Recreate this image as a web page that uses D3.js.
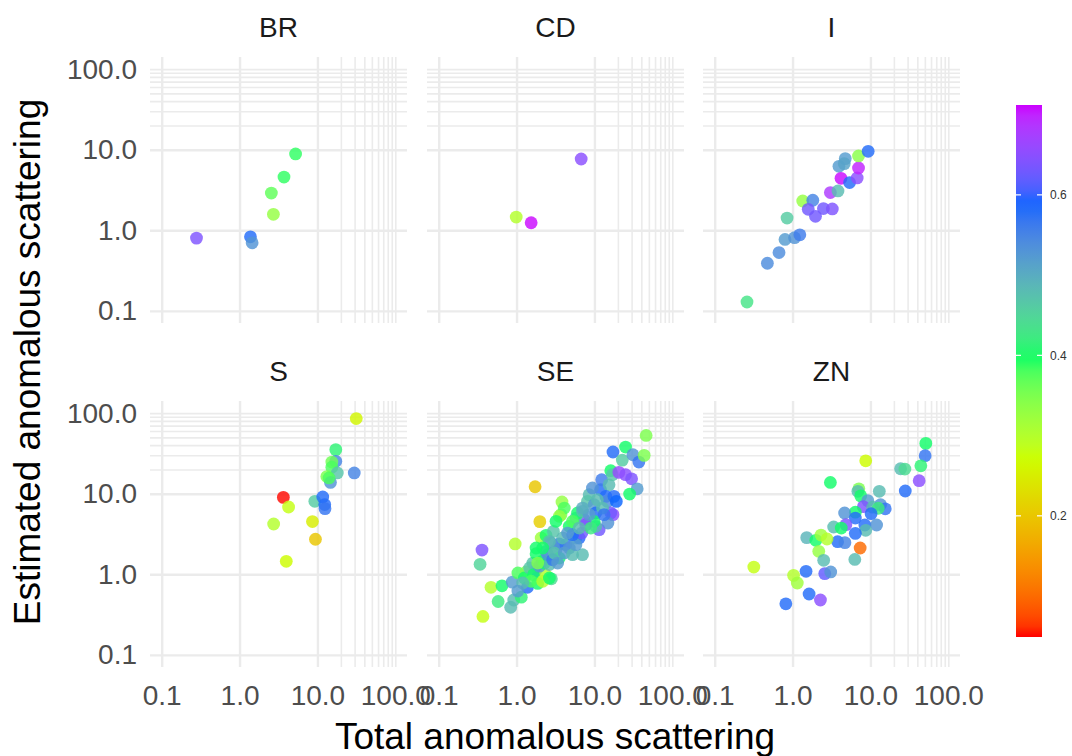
<!DOCTYPE html>
<html>
<head>
<meta charset="utf-8">
<script src="https://cdn.jsdelivr.net/npm/d3@7"></script>
<style>
	body { margin: 0; background: #fff; }
	svg { display: block; font-family: "Liberation Sans", Arial, sans-serif; }
	.grid line { stroke: #ebebeb; }
	.grid path { display: none; }
	.tick-labels path, .tick-labels line { display: none; }
	.tick-labels text { fill: #4d4d4d; font-size: 28px; }
</style>
</head>
<body>
<div id="chart"></div>
<script>
// facets, ticks and colour stops
var facets = ["BR", "CD", "I", "S", "SE", "ZN"];
var axisTicks = [0.1, 1, 10, 100];
var gridBreaks = [0.1, 1, 10, 20, 30, 40, 50, 60, 70, 80, 90, 100];
var colourTicks = [0.2, 0.4, 0.6];
var colourStops = [0.049, 0.272, 0.397, 0.589, 0.712];
var colourRange = ["#FF0000", "#CCFF00", "#00FF66", "#0066FF", "#CC00FF"];

// [total anomalous, estimated anomalous, colour value]
var dataBR = [
	[0.28, 0.80, 0.64], [1.38, 0.83, 0.58], [1.45, 0.70, 0.53], [2.72, 1.58, 0.33],
	[2.56, 2.90, 0.37], [3.72, 4.58, 0.39], [5.24, 8.85, 0.39]
];
var dataCD = [
	[6.76, 7.67, 0.65], [0.99, 1.46, 0.30], [1.54, 1.24, 0.71]
];
var dataI = [
	[0.26, 0.129, 0.43], [0.475, 0.39, 0.54], [0.67, 0.53, 0.54], [0.80, 0.77, 0.52],
	[1.06, 0.81, 0.53], [1.24, 0.88, 0.56], [0.85, 1.42, 0.46], [1.35, 2.31, 0.33],
	[1.82, 2.36, 0.55], [1.59, 1.82, 0.63], [1.97, 1.49, 0.63], [2.49, 1.86, 0.63],
	[3.24, 1.84, 0.64], [3.06, 2.94, 0.68], [3.83, 3.08, 0.48], [3.94, 6.22, 0.52],
	[4.75, 7.75, 0.52], [4.61, 6.72, 0.51], [4.19, 4.42, 0.71], [5.40, 3.91, 0.58],
	[6.76, 4.46, 0.65], [7.03, 5.93, 0.70], [7.03, 8.36, 0.34], [9.35, 9.55, 0.58]
];
var dataS = [
	[31.5, 85.5, 0.26], [17.2, 35.2, 0.41], [17.2, 25.2, 0.55], [15.3, 24.7, 0.36],
	[15.3, 21.3, 0.38], [18.0, 18.1, 0.47], [29.7, 18.1, 0.55], [13.2, 16.3, 0.35],
	[14.7, 13.8, 0.53], [14.1, 15.7, 0.38], [3.65, 9.0, 0.05], [4.26, 6.84, 0.28],
	[9.26, 8.05, 0.46], [11.7, 9.1, 0.58], [12.4, 7.33, 0.58], [12.5, 6.53, 0.57],
	[2.74, 4.21, 0.30], [8.63, 4.51, 0.25], [9.43, 2.72, 0.20], [3.98, 1.45, 0.27]
];
var dataSE = [
	[0.36, 2.0, 0.64], [0.34, 1.33, 0.45], [0.37, 0.30, 0.28], [0.47, 0.69, 0.30],
	[0.65, 0.72, 0.40], [0.58, 0.46, 0.42], [0.84, 0.39, 0.48], [0.92, 0.48, 0.48],
	[1.15, 0.52, 0.41], [0.88, 0.80, 0.52], [0.96, 2.38, 0.30], [1.73, 12.2, 0.20],
	[1.99, 4.5, 0.21], [1.38, 0.69, 0.58], [1.75, 1.10, 0.58], [2.34, 1.0, 0.30],
	[1.87, 0.77, 0.40], [2.8, 0.88, 0.44], [1.04, 1.04, 0.38], [1.33, 1.07, 0.35],
	[1.62, 1.38, 0.47], [1.78, 1.80, 0.40], [2.13, 1.45, 0.40], [2.39, 1.93, 0.52],
	[2.07, 2.82, 0.32], [2.39, 3.04, 0.40], [2.97, 3.41, 0.47], [3.54, 2.38, 0.58],
	[2.77, 2.45, 0.52], [3.21, 2.02, 0.53], [4.3, 2.33, 0.57], [3.9, 2.82, 0.48],
	[3.54, 1.59, 0.40], [4.75, 2.12, 0.53], [5.78, 2.82, 0.49], [7.03, 1.75, 0.48],
	[6.37, 2.82, 0.58], [7.38, 4.76, 0.64], [6.89, 3.25, 0.63], [4.75, 3.94, 0.40],
	[3.72, 5.5, 0.35], [3.83, 7.9, 0.33], [4.1, 6.64, 0.38], [3.54, 5.24, 0.33],
	[5.78, 4.99, 0.48], [6.07, 5.76, 0.40], [7.03, 6.04, 0.48], [8.55, 9.72, 0.48],
	[8.14, 8.03, 0.47], [9.9, 7.31, 0.52], [10.4, 5.76, 0.58], [11.5, 3.58, 0.63],
	[10.4, 3.94, 0.48], [9.9, 4.54, 0.40], [12.0, 11.2, 0.58], [12.4, 14.9, 0.56],
	[15.4, 12.9, 0.48], [14.0, 9.27, 0.58], [14.7, 8.03, 0.54], [17.8, 9.27, 0.58],
	[19.1, 8.03, 0.59], [17.3, 5.5, 0.65], [16.2, 5.76, 0.63], [14.9, 4.33, 0.53],
	[12.7, 6.64, 0.48], [16.2, 19.3, 0.40], [17.0, 17.2, 0.47], [20.6, 18.4, 0.66],
	[25.1, 17.2, 0.65], [30.0, 15.3, 0.64], [35.4, 11.5, 0.52], [28.3, 9.9, 0.40],
	[17.3, 32.9, 0.58], [25.1, 37.9, 0.40], [22.8, 26.1, 0.46], [31.2, 30.4, 0.53],
	[37.2, 24.7, 0.57], [43.5, 29.9, 0.35], [46.1, 52.8, 0.35], [1.26, 0.90, 0.40],
	[1.47, 1.2, 0.47], [1.65, 0.99, 0.40], [1.97, 1.26, 0.52], [2.28, 1.38, 0.40],
	[2.64, 1.32, 0.48], [2.51, 1.75, 0.53], [2.91, 1.52, 0.57], [3.05, 1.84, 0.47],
	[3.37, 1.38, 0.52], [4.1, 1.84, 0.52], [5.24, 1.75, 0.48], [5.78, 2.33, 0.52],
	[5.24, 3.1, 0.58], [4.52, 3.25, 0.52], [7.75, 4.13, 0.64], [8.55, 5.5, 0.52],
	[8.98, 3.75, 0.42], [13.3, 5.5, 0.57], [10.9, 8.43, 0.48], [9.42, 11.8, 0.53],
	[7.03, 6.64, 0.50], [5.24, 4.54, 0.38], [6.37, 3.75, 0.48], [3.21, 4.54, 0.40],
	[2.64, 2.56, 0.48], [2.17, 2.12, 0.40], [1.78, 2.12, 0.40], [1.87, 1.38, 0.35],
	[1.54, 0.82, 0.38], [2.17, 0.82, 0.30], [2.64, 0.90, 0.40], [1.2, 0.78, 0.48],
	[1.04, 0.62, 0.52]
];
var dataZN = [
	[51.4, 42.1, 0.40], [50.4, 29.6, 0.57], [44.4, 22.2, 0.41], [42.2, 14.5, 0.65],
	[28.0, 10.8, 0.58], [24.4, 20.4, 0.48], [27.7, 20.2, 0.44], [8.7, 25.6, 0.27],
	[3.06, 13.8, 0.40], [7.1, 11.5, 0.35], [6.9, 10.7, 0.48], [13.0, 10.7, 0.48],
	[7.5, 9.4, 0.40], [9.25, 8.2, 0.52], [8.1, 6.9, 0.64], [10.7, 6.8, 0.48],
	[13.5, 7.3, 0.53], [15.5, 6.5, 0.57], [12.6, 6.6, 0.42], [10.2, 5.65, 0.58],
	[6.4, 5.9, 0.40], [4.66, 5.76, 0.53], [6.4, 4.99, 0.58], [8.47, 4.09, 0.58],
	[12.0, 4.09, 0.53], [8.7, 3.51, 0.48], [6.4, 3.22, 0.58], [4.84, 4.13, 0.64],
	[3.37, 3.86, 0.48], [4.22, 3.75, 0.40], [3.79, 2.54, 0.58], [4.7, 2.47, 0.55],
	[7.38, 2.12, 0.10], [6.3, 1.53, 0.48], [1.52, 2.85, 0.49], [1.99, 2.64, 0.40],
	[2.32, 3.07, 0.32], [2.77, 2.74, 0.30], [2.17, 1.93, 0.33], [2.51, 1.49, 0.48],
	[1.49, 1.09, 0.58], [2.59, 1.02, 0.62], [3.09, 1.07, 0.53], [0.318, 1.23, 0.28],
	[1.03, 0.97, 0.30], [1.15, 0.78, 0.32], [0.82, 0.43, 0.58], [1.63, 0.57, 0.58],
	[2.28, 0.48, 0.65]
];
var facetData = [dataBR, dataCD, dataI, dataS, dataSE, dataZN];

/*
 * Chart Code
 */
var chartProperties = {
	width: 1072,
	height: 756,
	panelWidth: 257,
	panelHeight: 266,
	colX: [150, 427, 703],
	rowY: [57, 401]
};

var svg = d3.select("#chart")
	.append("svg")
	.attr("width", chartProperties.width)
	.attr("height", chartProperties.height);

// log scales with the usual 5% padding either side
var logDomain = [Math.pow(10, -1.15), Math.pow(10, 2.15)];
var xScale = d3.scaleLog()
	.domain(logDomain)
	.range([0, chartProperties.panelWidth]);
var yScale = d3.scaleLog()
	.domain(logDomain)
	.range([chartProperties.panelHeight, 0]);

var colourScale = d3.scaleLinear()
	.domain(colourStops)
	.range(colourRange)
	.interpolate(d3.interpolateLab);

var tickFormat = d3.format(".1f");

function isMajor(v) {
	return axisTicks.indexOf(v) >= 0 && v !== 100;
}

facets.forEach(function(name, i) {
	var col = i % 3;
	var row = Math.floor(i / 3);
	var panel = svg.append("g")
		.attr("transform", "translate(" + chartProperties.colX[col] + "," + chartProperties.rowY[row] + ")");

	// gridlines
	panel.append("g")
		.attr("class", "grid")
		.call(d3.axisBottom(xScale)
			.tickValues(gridBreaks)
			.tickSize(chartProperties.panelHeight)
			.tickFormat(""))
		.selectAll("line")
		.attr("stroke-width", function(d) { return isMajor(d) ? 2.4 : 1.6; });

	panel.append("g")
		.attr("class", "grid")
		.call(d3.axisRight(yScale)
			.tickValues(gridBreaks)
			.tickSize(chartProperties.panelWidth)
			.tickFormat(""))
		.selectAll("line")
		.attr("stroke-width", function(d) { return isMajor(d) ? 2.4 : 1.6; });

	// facet title
	panel.append("text")
		.attr("x", chartProperties.panelWidth / 2)
		.attr("y", -20)
		.attr("text-anchor", "middle")
		.attr("fill", "#1a1a1a")
		.style("font-size", "28px")
		.text(name);

	// axis labels on outer panels only
	if (col === 0) {
		panel.append("g")
			.attr("class", "tick-labels")
			.call(d3.axisLeft(yScale)
				.tickValues(axisTicks)
				.tickSize(0)
				.tickPadding(13)
				.tickFormat(tickFormat));
	}
	if (row === 1) {
		panel.append("g")
			.attr("class", "tick-labels")
			.attr("transform", "translate(0," + chartProperties.panelHeight + ")")
			.call(d3.axisBottom(xScale)
				.tickValues(axisTicks)
				.tickSize(0)
				.tickPadding(18)
				.tickFormat(tickFormat));
	}

	// points
	panel.selectAll("circle")
		.data(facetData[i])
		.enter()
		.append("circle")
		.attr("r", 6.4)
		.attr("cx", function(d) { return xScale(d[0]); })
		.attr("cy", function(d) { return yScale(d[1]); })
		.attr("fill", function(d) { return colourScale(d[2]); })
		.attr("fill-opacity", 0.82);
});

// axis titles
svg.append("text")
	.attr("x", 555)
	.attr("y", 749)
	.attr("text-anchor", "middle")
	.attr("fill", "#000")
	.style("font-size", "37px")
	.text("Total anomalous scattering");

svg.append("text")
	.attr("transform", "translate(40,362) rotate(-90)")
	.attr("text-anchor", "middle")
	.attr("fill", "#000")
	.style("font-size", "37px")
	.text("Estimated anomalous scattering");

// colour bar
var barX = 1016, barW = 26, barTop = 105, barBottom = 637;
var barScale = d3.scaleLinear()
	.domain([colourStops[0], colourStops[colourStops.length - 1]])
	.range([barBottom, barTop]);

var defs = svg.append("defs");
var grad = defs.append("linearGradient")
	.attr("id", "bar-grad")
	.attr("x1", 0).attr("y1", 1)
	.attr("x2", 0).attr("y2", 0);
d3.range(0, 1.0001, 0.02).forEach(function(t) {
	var v = colourStops[0] + t * (colourStops[colourStops.length - 1] - colourStops[0]);
	grad.append("stop")
		.attr("offset", t)
		.attr("stop-color", colourScale(v));
});

svg.append("rect")
	.attr("x", barX)
	.attr("y", barTop)
	.attr("width", barW)
	.attr("height", barBottom - barTop)
	.attr("fill", "url(#bar-grad)");

var barTicks = svg.append("g").selectAll("g")
	.data(colourTicks)
	.enter()
	.append("g")
	.attr("transform", function(d) { return "translate(0," + barScale(d) + ")"; });

barTicks.append("line")
	.attr("x1", barX).attr("x2", barX + 5)
	.attr("stroke", "#fff").attr("stroke-width", 1.2);
barTicks.append("line")
	.attr("x1", barX + barW - 5).attr("x2", barX + barW)
	.attr("stroke", "#fff").attr("stroke-width", 1.2);
barTicks.append("text")
	.attr("x", barX + barW + 8)
	.attr("dy", "0.35em")
	.attr("fill", "#333")
	.style("font-size", "12px")
	.text(function(d) { return d.toFixed(1); });
</script>
</body>
</html>
